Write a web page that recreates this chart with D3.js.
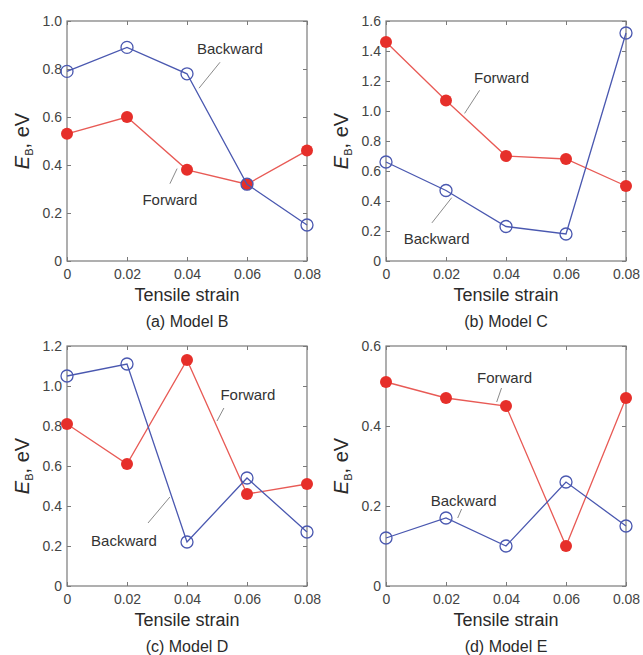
<!DOCTYPE html>
<html>
<head>
<meta charset="utf-8">
<script src="https://cdn.jsdelivr.net/npm/d3@7"></script>
<style>
  body { margin: 0; background: #fff; }
  svg { font-family: "Liberation Sans", Arial, sans-serif; }
  .tick text { fill: #444; font-size: 14px; }
  .tick line { stroke: #7a7a7a; }
</style>
</head>
<body>
<div id="chart"></div>
<script>
// strain values (x) shared by every panel
var strain = [0, 0.02, 0.04, 0.06, 0.08];
var strainTicks = ["0", "0.02", "0.04", "0.06", "0.08"];

// binding energies, eV
var forwardB = [0.53, 0.60, 0.38, 0.32, 0.46];
var backwardB = [0.79, 0.89, 0.78, 0.32, 0.15];
var forwardC = [1.46, 1.07, 0.70, 0.68, 0.50];
var backwardC = [0.66, 0.47, 0.23, 0.18, 1.52];
var forwardD = [0.81, 0.61, 1.13, 0.46, 0.51];
var backwardD = [1.05, 1.11, 0.22, 0.54, 0.27];
var forwardE = [0.51, 0.47, 0.45, 0.10, 0.47];
var backwardE = [0.12, 0.17, 0.10, 0.26, 0.15];

// y tick values per panel
var ticksB = [0, 0.2, 0.4, 0.6, 0.8, 1.0];
var ticksC = [0, 0.2, 0.4, 0.6, 0.8, 1.0, 1.2, 1.4, 1.6];
var ticksD = [0, 0.2, 0.4, 0.6, 0.8, 1.0, 1.2];
var ticksE = [0, 0.2, 0.4, 0.6];

var captions = ["(a) Model B", "(b) Model C", "(c) Model D", "(d) Model E"];

var red = "#e62f2a", redLine = "#e85a55", blue = "#4a58b0";

var width = 643, height = 655;
var svg = d3.select("#chart").append("svg")
    .attr("width", width)
    .attr("height", height);

// labels with leader lines, in data units: [textX, textY, lineX1, lineY1, lineX2, lineY2]
var panels = [
  {left: 67, top: 21, fwd: forwardB, bwd: backwardB, ymax: 1.0, ticks: ticksB, cap: captions[0],
   fLab: [0.0343, 0.234, 0.0367, 0.385, 0.0343, 0.322],
   bLab: [0.0543, 0.862, 0.051, 0.828, 0.044, 0.720]},
  {left: 386, top: 21, fwd: forwardC, bwd: backwardC, ymax: 1.6, ticks: ticksC, cap: captions[1],
   fLab: [0.0385, 1.19, 0.0312, 1.138, 0.0262, 0.984],
   bLab: [0.0169, 0.114, 0.0153, 0.254, 0.0219, 0.422]},
  {left: 67, top: 346, fwd: forwardD, bwd: backwardD, ymax: 1.2, ticks: ticksD, cap: captions[2],
   fLab: [0.0603, 0.93, 0.0523, 0.89, 0.050, 0.825],
   bLab: [0.019, 0.20, 0.027, 0.315, 0.0343, 0.445]},
  {left: 386, top: 346, fwd: forwardE, bwd: backwardE, ymax: 0.6, ticks: ticksE, cap: captions[3],
   fLab: [0.0395, 0.5075, 0.0385, 0.495, 0.0369, 0.46],
   bLab: [0.0259, 0.20, 0.0252, 0.1925, 0.0239, 0.17]}
];

var pw = 240, ph = 240;

panels.forEach(function(p) {
  var g = svg.append("g").attr("transform", "translate(" + p.left + "," + p.top + ")");

  var x = d3.scaleLinear().domain([0, 0.08]).range([0, pw]);
  var y = d3.scaleLinear().domain([0, p.ymax]).range([ph, 0]);

  var yFmt = function(d) { return d === 0 ? "0" : d3.format(".1f")(d); };

  //axes, ticks point inward
  g.append("g").attr("transform", "translate(0," + ph + ")")
      .call(d3.axisBottom(x).tickValues(strain).tickSize(-4).tickPadding(8)
        .tickFormat(function(d, i) { return strainTicks[i]; }));
  g.append("g")
      .call(d3.axisLeft(y).tickValues(p.ticks).tickSize(-4).tickPadding(5).tickFormat(yFmt));
  g.append("g").attr("transform", "translate(" + pw + ",0)")
      .call(d3.axisRight(y).tickValues(p.ticks).tickSize(-4).tickFormat(""));
  g.append("g")
      .call(d3.axisTop(x).tickValues(strain).tickSize(-4).tickFormat(""));
  g.selectAll(".domain").remove();

  g.append("rect")
      .attr("width", pw).attr("height", ph)
      .attr("fill", "none")
      .attr("stroke", "#7a7a7a")
      .attr("stroke-width", 1.2);

  var line = d3.line()
      .x(function(d, i) { return x(strain[i]); })
      .y(function(d) { return y(d); });

  //forward: red filled dots
  g.append("path").datum(p.fwd)
      .attr("d", line).attr("fill", "none")
      .attr("stroke", redLine).attr("stroke-width", 1.3);
  g.selectAll(".fdot").data(p.fwd).enter().append("circle")
      .attr("class", "fdot")
      .attr("cx", function(d, i) { return x(strain[i]); })
      .attr("cy", function(d) { return y(d); })
      .attr("r", 6)
      .attr("fill", red);

  //backward: blue open circles
  g.append("path").datum(p.bwd)
      .attr("d", line).attr("fill", "none")
      .attr("stroke", blue).attr("stroke-width", 1.3);
  g.selectAll(".bdot").data(p.bwd).enter().append("circle")
      .attr("class", "bdot")
      .attr("cx", function(d, i) { return x(strain[i]); })
      .attr("cy", function(d) { return y(d); })
      .attr("r", 6)
      .attr("fill", "none")
      .attr("stroke", blue)
      .attr("stroke-width", 1.3);

  //series labels
  [[p.fLab, "Forward"], [p.bLab, "Backward"]].forEach(function(l) {
    var a = l[0];
    g.append("line")
        .attr("x1", x(a[2])).attr("y1", y(a[3]))
        .attr("x2", x(a[4])).attr("y2", y(a[5]))
        .attr("stroke", "#8a8a8a").attr("stroke-width", 1);
    g.append("text")
        .attr("x", x(a[0])).attr("y", y(a[1]))
        .attr("text-anchor", "middle")
        .attr("font-size", 15)
        .attr("fill", "#333")
        .text(l[1]);
  });

  //axis titles
  g.append("text")
      .attr("x", pw / 2).attr("y", ph + 40)
      .attr("text-anchor", "middle")
      .attr("font-size", 18)
      .attr("fill", "#2a2a2a")
      .text("Tensile strain");

  var yl = g.append("text")
      .attr("transform", "translate(-38," + (ph / 2) + ") rotate(-90)")
      .attr("text-anchor", "middle")
      .attr("font-size", 20)
      .attr("fill", "#2a2a2a");
  yl.append("tspan").attr("font-style", "italic").text("E");
  yl.append("tspan").attr("font-size", 11).attr("dy", 4).text("B");
  yl.append("tspan").attr("dy", -4).text(", eV");

  g.append("text")
      .attr("x", pw / 2).attr("y", ph + 66)
      .attr("text-anchor", "middle")
      .attr("font-size", 16)
      .attr("fill", "#2a2a2a")
      .text(p.cap);
});
</script>
</body>
</html>
